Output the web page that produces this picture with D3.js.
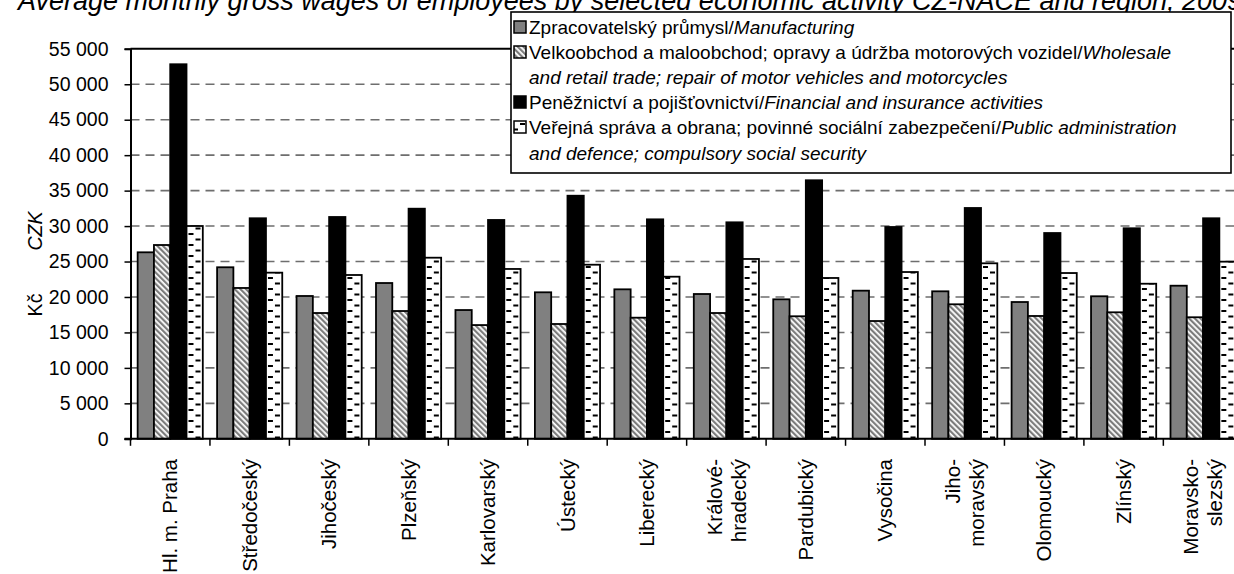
<!DOCTYPE html>
<html>
<head>
<meta charset="utf-8">
<script src="https://cdn.jsdelivr.net/npm/d3@7"></script>
<style>
  html, body { margin: 0; padding: 0; background: #fff; overflow: hidden; }
  svg { display: block; font-family: "Liberation Sans", Arial, sans-serif; }
</style>
</head>
<body>
<svg id="chart" width="1234" height="574"></svg>
<script>
const regions = [
  ["Hl. m. Praha"], ["Středočeský"], ["Jihočeský"], ["Plzeňský"], ["Karlovarský"],
  ["Ústecký"], ["Liberecký"], ["Králové-", "hradecký"], ["Pardubický"], ["Vysočina"],
  ["Jiho-", "moravský"], ["Olomoucký"], ["Zlínský"], ["Moravsko-", "slezský"]
];
const seriesKeys = ["manufacturing", "trade", "finance", "public"];
const manufacturing = [26300, 24190, 20140, 21970, 18160, 20660, 21080, 20420, 19670, 20890, 20800, 19290, 20100, 21590];
const trade         = [27330, 21270, 17740, 18020, 16040, 16190, 17080, 17740, 17280, 16610, 18970, 17320, 17840, 17140];
const finance       = [52820, 31100, 31280, 32450, 30860, 34280, 30950, 30530, 36460, 29870, 32550, 29020, 29690, 31100];
const publicAdmin   = [30010, 23430, 23100, 25540, 23950, 24550, 22860, 25360, 22680, 23520, 24750, 23380, 21870, 24980];
const yTicks = [0, 5000, 10000, 15000, 20000, 25000, 30000, 35000, 40000, 45000, 50000, 55000];
const legendItems = [
  { key: "manufacturing", lines: [["Zpracovatelský průmysl/", "Manufacturing"]] },
  { key: "trade", lines: [["Velkoobchod a maloobchod; opravy a údržba motorových vozidel/", "Wholesale"], ["", "and retail trade; repair of motor vehicles and motorcycles"]] },
  { key: "finance", lines: [["Peněžnictví a pojišťovnictví/", "Financial and insurance activities"]] },
  { key: "public", lines: [["Veřejná správa a obrana; povinné sociální zabezpečení/", "Public administration"], ["", "and defence; compulsory social security"]] }
];
const titleText = "Average monthly gross wages of employees by selected economic activity CZ-NACE and region, 2009";

const seriesValues = { manufacturing, trade, finance, public: publicAdmin };
const fills = { manufacturing: "#808080", trade: "url(#hatch)", finance: "#000000", public: "url(#dash)" };

const svg = d3.select("#chart");
const defs = svg.append("defs");
const hatch = defs.append("pattern").attr("id", "hatch").attr("patternUnits", "userSpaceOnUse")
  .attr("width", 4).attr("height", 4).attr("patternTransform", "rotate(-45)");
hatch.append("rect").attr("width", 4).attr("height", 4).attr("fill", "#ffffff");
hatch.append("rect").attr("width", 2.2).attr("height", 4).attr("fill", "#7c7c7c");
const dash = defs.append("pattern").attr("id", "dash").attr("patternUnits", "userSpaceOnUse")
  .attr("width", 14).attr("height", 11);
dash.append("rect").attr("width", 14).attr("height", 11).attr("fill", "#ffffff");
dash.append("rect").attr("x", 2).attr("y", 2).attr("width", 5).attr("height", 2).attr("fill", "#000");
dash.append("rect").attr("x", 9).attr("y", 7.5).attr("width", 5).attr("height", 2).attr("fill", "#000");

const plotLeft = 130.5, plotTop = 48.8, plotBottom = 438.8;
const step = 79.45;
const x0 = d3.scaleBand().domain(d3.range(regions.length)).range([plotLeft, plotLeft + step * regions.length]).padding(0);
const x1 = d3.scaleBand().domain(seriesKeys).range([x0.bandwidth() * 0.09, x0.bandwidth() * 0.91]).padding(0);
const y = d3.scaleLinear().domain([0, 55000]).range([plotBottom, plotTop]);

// title (cropped at the top/right edge as in the reference)
svg.append("text").attr("x", 18).attr("y", 10).attr("font-size", 27).attr("font-style", "italic")
  .attr("fill", "#000").text(titleText);

// gridlines
svg.append("g").selectAll("line").data(yTicks.filter(d => d > 0 && d < 55000)).join("line")
  .attr("x1", plotLeft).attr("x2", 1240).attr("y1", d => y(d)).attr("y2", d => y(d))
  .attr("stroke", "#6e6e6e").attr("stroke-width", 1.6).attr("stroke-dasharray", "9,6");
// top border
svg.append("line").attr("x1", plotLeft).attr("x2", 1240).attr("y1", y(55000)).attr("y2", y(55000))
  .attr("stroke", "#000").attr("stroke-width", 2);

// y axis
const yAxis = d3.axisLeft(y).tickValues(yTicks).tickSize(6).tickPadding(16)
  .tickFormat(d => d3.format(",")(d).replace(/,/g, " "));
const gy = svg.append("g").attr("transform", `translate(${plotLeft},0)`).call(yAxis);
gy.select(".domain").attr("stroke", "#000").attr("stroke-width", 2);
gy.selectAll(".tick line").attr("stroke", "#000").attr("stroke-width", 1.5);
gy.selectAll(".tick text").attr("font-size", 19.5).attr("fill", "#000")
  .attr("font-family", "'Liberation Sans', Arial, sans-serif");

// bars
const groups = svg.append("g").selectAll("g").data(regions.map((r, i) => i)).join("g")
  .attr("transform", i => `translate(${x0(i)},0)`);
groups.selectAll("rect").data(i => seriesKeys.map(k => ({ k, v: seriesValues[k][i] }))).join("rect")
  .attr("x", d => x1(d.k)).attr("width", x1.bandwidth())
  .attr("y", d => y(d.v)).attr("height", d => y(0) - y(d.v))
  .attr("fill", d => fills[d.k]).attr("stroke", "#000").attr("stroke-width", 1.8);

// x axis
const xTicks = d3.range(regions.length + 1).map(i => plotLeft + step * i);
svg.append("line").attr("x1", plotLeft - 6).attr("x2", 1240).attr("y1", y(0)).attr("y2", y(0))
  .attr("stroke", "#000").attr("stroke-width", 2);
svg.append("g").selectAll("line").data(xTicks).join("line")
  .attr("x1", d => d).attr("x2", d => d).attr("y1", y(0)).attr("y2", y(0) + 7)
  .attr("stroke", "#000").attr("stroke-width", 1.5);

// category labels
const lab = svg.append("g").selectAll("text").data(regions).join("text")
  .attr("transform", (r, i) => `translate(${x0(i) + x0.bandwidth() / 2},459) rotate(-90)`)
  .attr("text-anchor", "end").attr("font-size", 20.5).attr("fill", "#000");
lab.each(function (r) {
  const t = d3.select(this);
  const n = r.length;
  r.forEach((line, j) => {
    const off = (j - (n - 1) / 2) * 24;
    t.append("tspan").attr("x", 0).attr("y", off).attr("dy", "0.35em").text(line);
  });
});

// y-axis title
svg.append("text").attr("transform", "translate(35,305) rotate(-90)").attr("text-anchor", "middle")
  .attr("dy", "0.35em").attr("font-size", 19.5).attr("fill", "#000").text("Kč");
svg.append("text").attr("transform", "translate(35,231) rotate(-90)").attr("text-anchor", "middle")
  .attr("dy", "0.35em").attr("font-size", 19.5).attr("font-style", "italic").attr("fill", "#000").text("CZK");

// legend
const lg = svg.append("g");
lg.append("rect").attr("x", 511).attr("y", 12).attr("width", 720).attr("height", 161)
  .attr("fill", "#fff").attr("stroke", "#000").attr("stroke-width", 1.6);
let row = 0;
const rowY = [27, 52, 77, 102, 127, 153];
legendItems.forEach(item => {
  lg.append("rect").attr("x", 514).attr("y", rowY[row] - 6).attr("width", 12).attr("height", 12)
    .attr("fill", fills[item.key]).attr("stroke", "#000").attr("stroke-width", 1.5);
  item.lines.forEach(([normal, ital]) => {
    const t = lg.append("text").attr("x", 529).attr("y", rowY[row]).attr("dy", "0.35em")
      .attr("font-size", 19).attr("fill", "#000");
    t.append("tspan").text(normal);
    t.append("tspan").attr("font-style", "italic").text(ital);
    row++;
  });
});
</script>
</body>
</html>
